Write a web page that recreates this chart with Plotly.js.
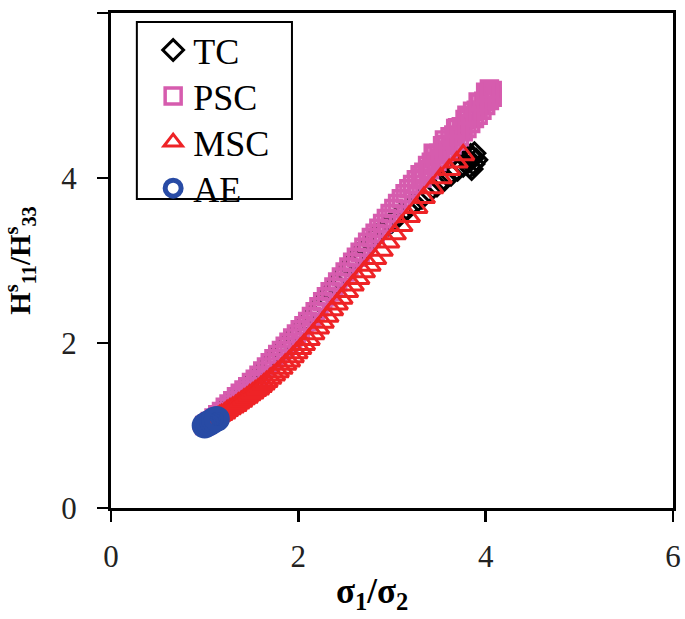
<!DOCTYPE html>
<html>
<head>
<meta charset="utf-8">
<script src="https://cdn.plot.ly/plotly-3.0.1.min.js"></script>
<style>
  html, body { margin: 0; padding: 0; background: #ffffff; }
  #chart { width: 685px; height: 619px; }
</style>
</head>
<body>
<div id="chart"></div>
<script>
// series names as shown in the legend
const seriesNames = ['TC', 'PSC', 'MSC', 'AE'];
const axisTicks = [0, 2, 4, 6];

// TC - sigma1/sigma2 vs H11/H33
const tcX = [1.00, 1.05, 1.10, 1.15, 1.20, 1.25, 1.30, 1.35, 1.40, 1.45, 1.50, 1.55, 1.60, 1.65, 1.70,
  1.75, 1.80, 1.85, 1.90, 1.95, 2.00, 2.05, 2.10, 2.15, 2.20, 2.25, 2.30, 2.35, 2.40, 2.45, 2.50,
  2.55, 2.60, 2.66, 2.72, 2.79, 2.86, 2.93, 3.00, 3.08, 3.16, 3.24, 3.32, 3.40, 3.48, 3.56, 3.63,
  3.70, 3.76, 3.82, 3.86, 3.88, 3.84, 3.80, 3.83, 3.87, 3.90, 3.85];
const tcY = [1.00, 1.05, 1.10, 1.15, 1.20, 1.25, 1.30, 1.35, 1.40, 1.46, 1.52, 1.58, 1.64, 1.70, 1.76,
  1.82, 1.89, 1.96, 2.02, 2.08, 2.14, 2.21, 2.27, 2.34, 2.41, 2.48, 2.55, 2.63, 2.71, 2.79, 2.86,
  2.94, 3.01, 3.09, 3.17, 3.25, 3.33, 3.40, 3.47, 3.55, 3.62, 3.69, 3.76, 3.84, 3.91, 3.98, 4.04,
  4.10, 4.15, 4.20, 4.24, 4.30, 4.28, 4.23, 4.14, 4.17, 4.22, 4.11];

// PSC
const pscX = [1.00, 1.03, 1.06, 1.10, 1.14, 1.18, 1.22, 1.26, 1.30, 1.34, 1.38, 1.42, 1.46, 1.50, 1.54,
  1.58, 1.62, 1.66, 1.70, 1.74, 1.78, 1.82, 1.86, 1.90, 1.94, 1.98, 2.02, 2.06, 2.10, 2.14, 2.18,
  2.22, 2.26, 2.30, 2.34, 2.38, 2.42, 2.46, 2.50, 2.54, 2.58, 2.62, 2.66, 2.70, 2.74, 2.78, 2.82,
  2.86, 2.90, 2.94, 2.98, 3.02, 3.06, 3.10, 3.14, 3.18, 3.22, 3.26, 3.30, 3.34, 3.38, 3.42, 3.46,
  3.50, 3.54, 3.58, 3.62, 3.66, 3.70, 3.74, 3.78, 3.82, 3.86, 3.90, 3.94, 3.98, 4.02, 4.05, 4.07,
  3.52, 3.64, 3.76, 3.88, 4.00,
  3.32, 3.40, 3.48, 3.56, 3.60, 3.68, 3.72, 3.80, 3.84, 3.92, 3.96, 4.04, 4.07,
  3.44, 3.56, 3.68, 3.80, 3.92, 4.00, 4.04];
const pscY = [1.00, 1.02, 1.05, 1.09, 1.13, 1.17, 1.22, 1.26, 1.30, 1.35, 1.39, 1.43, 1.47, 1.52, 1.56,
  1.61, 1.66, 1.71, 1.76, 1.81, 1.86, 1.91, 1.96, 2.01, 2.06, 2.11, 2.16, 2.21, 2.26, 2.32, 2.38,
  2.44, 2.50, 2.56, 2.62, 2.68, 2.74, 2.80, 2.86, 2.92, 2.98, 3.04, 3.10, 3.16, 3.22, 3.28, 3.33,
  3.39, 3.45, 3.51, 3.57, 3.63, 3.69, 3.75, 3.81, 3.87, 3.92, 3.98, 4.04, 4.07, 4.15, 4.19, 4.28,
  4.30, 4.39, 4.41, 4.50, 4.52, 4.61, 4.62, 4.71, 4.72, 4.81, 4.82, 4.91, 4.93, 5.00, 5.02, 5.06,
  4.24, 4.40, 4.56, 4.72, 4.88,
  4.00, 4.10, 4.20, 4.31, 4.34, 4.45, 4.50, 4.60, 4.66, 4.76, 4.82, 4.94, 4.98,
  4.30, 4.46, 4.60, 4.76, 4.92, 5.04, 5.08];

// MSC
const mscX = [1.00, 1.02, 1.04, 1.06, 1.08, 1.10, 1.12, 1.14, 1.16, 1.18, 1.21, 1.24, 1.27, 1.30, 1.33,
  1.36, 1.39, 1.42, 1.45, 1.48, 1.51, 1.54, 1.57, 1.60, 1.63, 1.66, 1.70, 1.74, 1.78, 1.82, 1.86,
  1.90, 1.94, 1.98, 2.02, 2.06, 2.11, 2.16, 2.21, 2.26, 2.31, 2.36, 2.41, 2.46, 2.52, 2.58, 2.64,
  2.70, 2.76, 2.82, 2.89, 2.96, 3.03, 3.10, 3.18, 3.26, 3.34, 3.43, 3.52, 3.61, 3.69, 3.76];
const mscY = [1.00, 1.01, 1.03, 1.04, 1.06, 1.07, 1.09, 1.10, 1.12, 1.13, 1.15, 1.18, 1.20, 1.22, 1.24,
  1.27, 1.29, 1.32, 1.34, 1.37, 1.39, 1.42, 1.44, 1.47, 1.50, 1.53, 1.57, 1.61, 1.65, 1.69, 1.74,
  1.78, 1.83, 1.88, 1.93, 1.98, 2.04, 2.11, 2.18, 2.25, 2.32, 2.40, 2.47, 2.54, 2.62, 2.70, 2.78,
  2.86, 2.94, 3.02, 3.12, 3.22, 3.32, 3.42, 3.53, 3.64, 3.76, 3.88, 4.00, 4.10, 4.19, 4.28];

// AE
const aeX = [1.00, 1.03, 1.05, 1.08, 1.10, 1.13];
const aeY = [1.00, 1.02, 1.03, 1.05, 1.07, 1.08];

const serif = 'Liberation Serif, Times New Roman, serif';

const traces = [
  {
    x: tcX, y: tcY, name: seriesNames[0], legend: 'legend',
    type: 'scatter', mode: 'markers',
    marker: { symbol: 'diamond-open', size: 16, color: '#000000', line: { width: 3, color: '#000000' } }
  },
  {
    x: pscX, y: pscY, name: seriesNames[1], legend: 'legend2',
    type: 'scatter', mode: 'markers',
    marker: { symbol: 'square-open', size: 16, color: '#d65cae', line: { width: 3.5, color: '#d65cae' } }
  },
  {
    x: mscX, y: mscY, name: seriesNames[2], legend: 'legend3',
    type: 'scatter', mode: 'markers',
    marker: { symbol: 'triangle-up-open', size: 19, color: '#ee2326', line: { width: 3, color: '#ee2326' } }
  },
  {
    x: aeX, y: aeY, name: seriesNames[3], legend: 'legend4',
    type: 'scatter', mode: 'markers',
    marker: { symbol: 'circle-open', size: 20, color: '#284ba5', line: { width: 6, color: '#284ba5' } }
  }
];

const axisCommon = {
  range: [0, 6],
  tickvals: axisTicks,
  ticktext: axisTicks.map(String),
  showgrid: false,
  zeroline: false,
  showline: true,
  linecolor: '#000000',
  linewidth: 3,
  mirror: true,
  ticks: 'outside',
  ticklen: 11,
  tickwidth: 2.5,
  tickcolor: '#000000',
  tickfont: { family: serif, size: 31, color: '#222222' }
};

// one legend box per entry so the row spacing follows the original
function legendAt(yc) {
  return {
    x: 0.075, y: yc, xanchor: 'left', yanchor: 'middle',
    bgcolor: 'rgba(0,0,0,0)',
    borderwidth: 0,
    font: { family: serif, size: 36, color: '#000000' }
  };
}

const layout = {
  width: 685,
  height: 619,
  margin: { l: 111, r: 12, t: 13, b: 111 },
  paper_bgcolor: '#ffffff',
  plot_bgcolor: '#ffffff',
  showlegend: true,
  legend: legendAt(0.925),
  legend2: legendAt(0.832),
  legend3: legendAt(0.739),
  legend4: legendAt(0.646),
  xaxis: Object.assign({}, axisCommon, { ticklabelstandoff: 8 }),
  yaxis: Object.assign({}, axisCommon, {
    ticklabelstandoff: 14,
    title: { text: '<b>H<sup>s</sup><sub>11</sub>/H<sup>s</sup><sub>33</sub></b>', font: { family: serif, size: 29, color: '#000000' }, standoff: 26 }
  }),
  annotations: [{
    xref: 'paper', yref: 'paper', x: 0.464, y: -0.172,
    xanchor: 'center', yanchor: 'middle', showarrow: false,
    text: '<b>σ<sub>1</sub>/σ<sub>2</sub></b>',
    font: { family: serif, size: 35, color: '#000000' }
  }],
  shapes: [{
    type: 'rect', xref: 'paper', yref: 'paper',
    x0: 0.046, x1: 0.322, y0: 0.624, y1: 0.982,
    line: { color: '#000000', width: 2 }
  }]
};

Plotly.newPlot('chart', traces, layout, { displayModeBar: false, staticPlot: true });
</script>
</body>
</html>
